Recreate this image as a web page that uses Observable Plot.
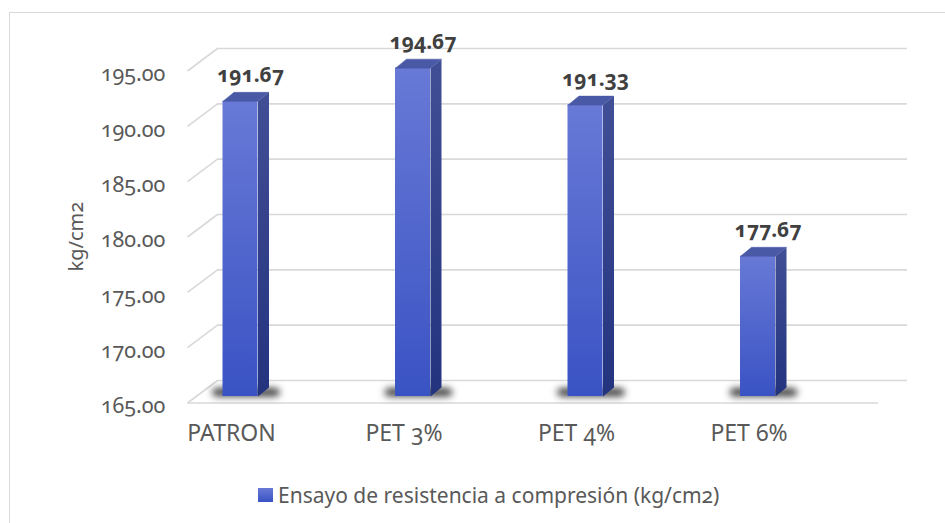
<!DOCTYPE html>
<html>
<head>
<meta charset="utf-8">
<script src="https://cdn.jsdelivr.net/npm/d3@7"></script>
<script src="https://cdn.jsdelivr.net/npm/@observablehq/plot@0.6"></script>
<style>
  html, body { margin: 0; padding: 0; background: #ffffff; overflow: hidden; }
  body { width: 945px; height: 523px; position: relative; font-family: "Noto Sans", "Open Sans", sans-serif; }
  #frame { position: absolute; left: 9px; top: 12px; width: 960px; height: 600px; border: 1.5px solid #d9d9d9; box-sizing: border-box; }
  #chart { position: absolute; left: 0; top: 0; }
  #chart svg text { font-variant-numeric: oldstyle-nums; }
  #legend { position: absolute; left: 258px; top: 481px; display: flex; align-items: center; color: #595959; font-size: 21px; font-variant-numeric: oldstyle-nums; white-space: nowrap; }
  #legend .sw { width: 15px; height: 14px; margin-right: 5px; background: linear-gradient(#6879d6, #3a53c4); }
</style>
</head>
<body>
<div id="frame"></div>
<div id="chart"></div>
<div id="legend"></div>
<script>
// ---- data ----
const categories = ["PATRON", "PET 3%", "PET 4%", "PET 6%"];
const values = [191.67, 194.67, 191.33, 177.67];
const yTicks = [165, 170, 175, 180, 185, 190, 195];
const seriesName = "Ensayo de resistencia a compresión (kg/cm2)";
const axisTitle = "kg/cm2";

// ---- layout (pixels) ----
const W = 945, H = 478;
const step = 172.5, firstCenter = 240;
const plotTop = 64, plotBottom = 396;
const yMin = 165, yMax = 195;
const k = (yMax - yMin) / (plotBottom - plotTop); // value units per px
const u = 1 / step;                               // x units per px
const halfW = 17.5 * u, depthX = 11 * u, depthY = 9 * k;

const data = categories.map((c, i) => ({ i, cat: c, v: values[i] }));

// bar faces as polygons
const tops = [], sides = [];
data.forEach(d => {
  const xl = d.i - halfW, xr = d.i + halfW;
  [[xl, d.v], [xr, d.v], [xr + depthX, d.v + depthY], [xl + depthX, d.v + depthY], [xl, d.v]]
    .forEach(([x, y]) => tops.push({ id: d.i, x, y }));
  [[xr, yMin], [xr, d.v], [xr + depthX, d.v + depthY], [xr + depthX, yMin + depthY], [xr, yMin]]
    .forEach(([x, y]) => sides.push({ id: d.i, x, y }));
});

// grid (3D back wall + floor)
const backX1 = (217 - firstCenter) * u, backX2 = (907 - firstCenter) * u;
const frontX1 = (187 - firstCenter) * u, frontX2 = (878 - firstCenter) * u;
const backOff = 16 * k, frontOff = -6.5 * k;

const chart = Plot.plot({
  width: W,
  height: H,
  marginLeft: firstCenter - step / 2,
  marginRight: W - (firstCenter + 3.5 * step),
  marginTop: plotTop,
  marginBottom: H - plotBottom,
  style: { fontFamily: "'Noto Sans', 'Open Sans', sans-serif", background: "transparent" },
  x: { type: "linear", domain: [-0.5, 3.5] },
  y: { domain: [yMin, yMax] },
  marks: [
    // back wall gridlines
    Plot.ruleY(yTicks, { y: t => t + backOff, x1: backX1, x2: backX2, stroke: "#d9d9d9", strokeWidth: 1.6 }),
    // side-wall diagonals
    Plot.link(yTicks, { x1: frontX1, y1: t => t + frontOff, x2: backX1, y2: t => t + backOff, stroke: "#d9d9d9", strokeWidth: 1.6 }),
    // floor front edge
    Plot.ruleY([yMin], { y: t => t + frontOff, x1: frontX1, x2: frontX2, stroke: "#d9d9d9", strokeWidth: 1.6 }),
    // shadows
    Plot.rect(data, {
      x1: d => d.i - 28 * u, x2: d => d.i + 40 * u,
      y1: yMin - 0.5 * k, y2: yMin + 8 * k,
      fill: "#222222", fillOpacity: 0.85, rx: 6, imageFilter: "blur(3.5px)"
    }),
    // front faces
    Plot.rect(data, { x1: d => d.i - halfW, x2: d => d.i + halfW, y1: yMin, y2: "v", fill: "url(#frontGrad)" }),
    // side faces
    Plot.line(sides, { x: "x", y: "y", z: "id", fill: "url(#sideGrad)", stroke: "none", curve: "linear" }),
    // top faces
    Plot.line(tops, { x: "x", y: "y", z: "id", fill: "#4a59a6", stroke: "#4a59a6", strokeWidth: 0.5, curve: "linear" }),
    // value labels
    Plot.text(data, {
      x: d => d.i + 10 * u, y: "v", dy: -26, text: d => d.v.toFixed(2),
      fontSize: 21, fontWeight: "bold", fill: "#404040"
    }),
    // axes
    Plot.axisY(yTicks, { tickFormat: d3.format(".2f"), tickSize: 0, tickPadding: 0, dx: 11, dy: 10, fontSize: 21.5, fill: "#595959", label: null }),
    Plot.axisX([0, 1, 2, 3], { tickFormat: i => categories[i], tickSize: 0, tickPadding: 28, dx: -9, fontSize: 23, fill: "#595959", label: null }),
    Plot.text([axisTitle], { frameAnchor: "left", rotate: -90, dx: -78, dy: 41, fontSize: 20, fill: "#595959" })
  ]
});

// gradients
const defs = d3.select(chart).insert("defs", ":first-child");
const fg = defs.append("linearGradient").attr("id", "frontGrad").attr("x1", 0).attr("y1", 0).attr("x2", 0).attr("y2", 1);
fg.append("stop").attr("offset", "0%").attr("stop-color", "#6879d6");
fg.append("stop").attr("offset", "100%").attr("stop-color", "#3a53c4");
const sg = defs.append("linearGradient").attr("id", "sideGrad").attr("x1", 0).attr("y1", 0).attr("x2", 0).attr("y2", 1);
sg.append("stop").attr("offset", "0%").attr("stop-color", "#414f96");
sg.append("stop").attr("offset", "100%").attr("stop-color", "#23337e");

document.getElementById("chart").appendChild(chart);

const legend = document.getElementById("legend");
legend.innerHTML = `<span class="sw"></span><span>${seriesName}</span>`;
</script>
</body>
</html>
